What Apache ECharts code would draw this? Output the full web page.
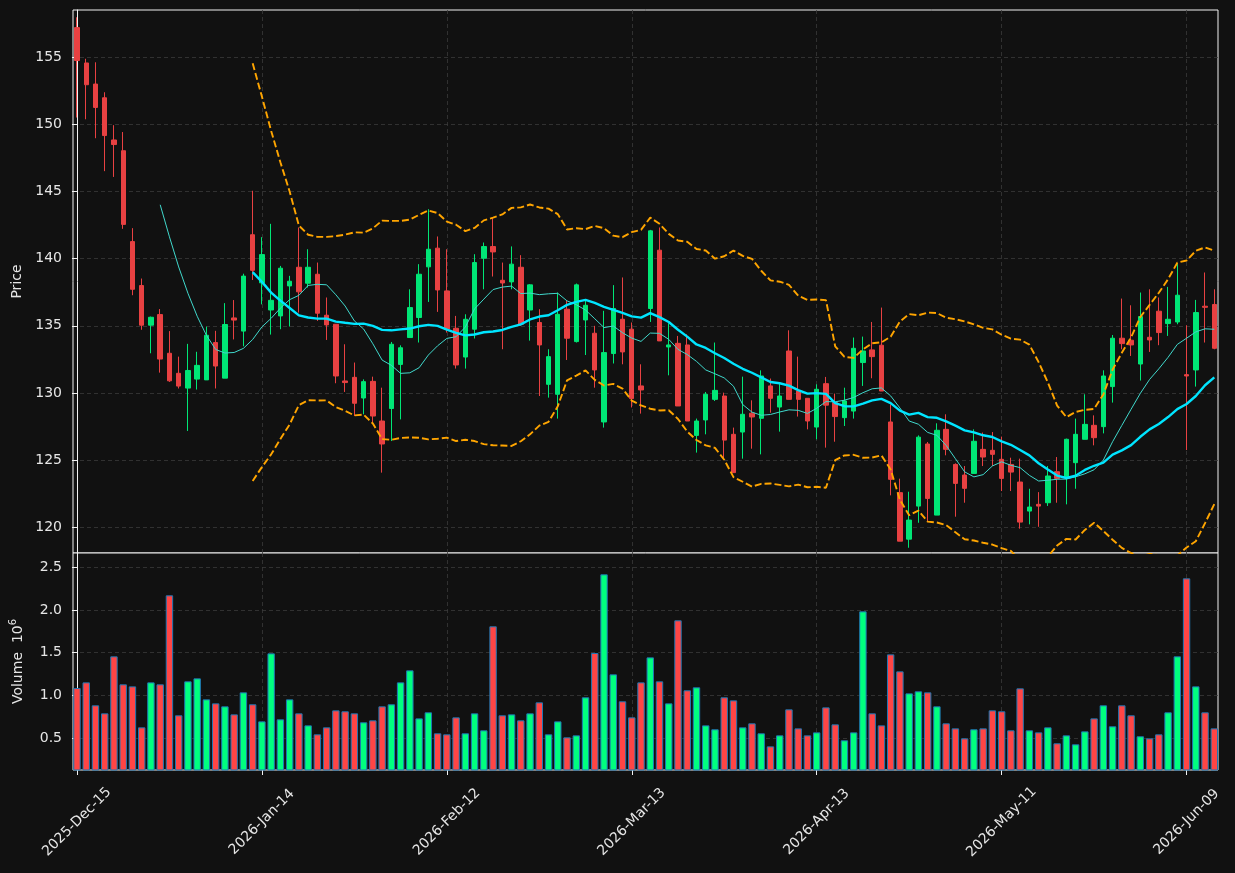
<!DOCTYPE html>
<html>
<head>
<meta charset="utf-8">
<title>Price / Volume</title>
<script src="https://cdn.jsdelivr.net/npm/echarts@6/dist/echarts.min.js"></script>
<style>
    html, body { margin: 0; padding: 0; background: #111111; }
    #chart { width: 1235px; height: 873px; }
</style>
</head>
<body>
<div id="chart"></div>
<script>
// x positions are trading-day indexes, labelled every 20 sessions
var tickPos = [0, 20, 40, 60, 80, 100, 120];
var tickLabels = ['2025-Dec-15', '2026-Jan-14', '2026-Feb-12', '2026-Mar-13',
                  '2026-Apr-13', '2026-May-11', '2026-Jun-09'];
var priceTicks = [120, 125, 130, 135, 140, 145, 150, 155];
var volumeTicks = [0.5, 1.0, 1.5, 2.0, 2.5];

var opens = [157.19, 154.56, 152.99, 151.97, 148.83, 148.03, 141.27, 138.0, 135.05, 135.84,
             132.96, 131.47, 130.37, 131.04, 130.98, 133.76, 131.11, 135.59, 134.61, 141.78,
             138.2, 136.18, 135.74, 137.97, 139.36, 138.17, 138.84, 135.79, 135.12, 130.9,
             131.17, 129.63, 130.87, 127.92, 128.85, 132.13, 134.13, 135.62, 139.39, 140.78,
             137.6, 134.82, 132.68, 134.75, 140.03, 140.9, 138.39, 138.27, 139.36, 136.18,
             135.25, 130.65, 129.91, 136.24, 133.83, 135.44, 134.45, 127.85, 132.94, 135.49,
             134.75, 130.53, 136.29, 140.63, 133.43, 133.7, 133.58, 126.85, 128.0, 129.53,
             129.78, 126.93, 127.1, 128.5, 128.12, 130.53, 128.96, 133.13, 130.15, 129.61,
             127.47, 130.7, 129.29, 128.17, 128.66, 132.27, 133.21, 133.56, 127.85, 122.59,
             119.13, 121.59, 126.21, 120.92, 127.3, 124.69, 123.9, 124.02, 125.81, 125.74,
             125.07, 124.69, 123.38, 121.22, 121.72, 121.84, 124.15, 123.78, 124.82, 126.56,
             127.6, 127.5, 130.48, 134.08, 133.93, 132.16, 134.15, 136.09, 135.17, 135.29,
             131.37, 131.72, 136.46, 136.59];
var closes = [154.74, 152.94, 151.25, 149.16, 148.49, 142.55, 137.72, 135.05, 135.64, 132.53,
              130.91, 130.52, 131.68, 132.06, 134.3, 132.01, 135.1, 135.43, 138.7, 139.13,
              140.3, 136.9, 139.29, 138.32, 137.53, 139.36, 135.94, 135.07, 131.27, 130.78,
              129.24, 130.85, 128.29, 126.21, 133.63, 133.37, 136.36, 138.84, 140.7, 137.67,
              134.75, 132.09, 135.49, 139.71, 140.9, 140.5, 138.19, 139.59, 135.12, 138.05,
              133.58, 132.71, 135.86, 134.08, 138.05, 136.53, 131.72, 133.01, 136.29, 133.06,
              129.59, 130.23, 142.07, 133.88, 133.58, 129.04, 127.92, 127.92, 129.91, 130.2,
              126.5, 124.08, 128.42, 128.22, 131.27, 129.61, 129.78, 129.53, 129.53, 127.92,
              130.28, 129.1, 128.25, 129.41, 133.33, 133.13, 132.71, 130.15, 123.58, 118.98,
              120.55, 126.72, 122.16, 127.23, 125.81, 123.28, 122.91, 126.41, 125.24, 125.44,
              123.65, 124.12, 120.4, 121.52, 121.59, 123.83, 123.65, 126.56, 126.93, 127.67,
              126.68, 131.27, 134.08, 133.68, 133.58, 135.69, 133.95, 134.5, 135.49, 137.28,
              131.27, 135.99, 136.38, 133.33];
var lows = [150.5, 150.37, 148.96, 146.51, 146.08, 142.22, 137.28, 134.71, 132.96, 131.52,
            130.83, 130.34, 127.18, 130.26, 130.98, 130.34, 131.11, 133.99, 133.48, 138.41,
            136.6, 134.35, 134.75, 134.95, 135.99, 137.85, 135.37, 133.95, 130.73, 130.08,
            128.29, 128.42, 127.8, 124.08, 126.43, 128.04, 134.1, 133.76, 136.78, 136.04,
            134.5, 131.82, 131.82, 134.06, 137.72, 138.67, 133.26, 137.72, 135.0, 133.9,
            129.78, 129.66, 128.1, 132.46, 133.76, 132.83, 130.4, 127.43, 132.2, 132.14,
            128.93, 128.47, 135.29, 133.88, 131.32, 129.04, 127.92, 125.57, 126.93, 129.41,
            125.07, 124.08, 125.12, 125.86, 125.44, 128.54, 127.13, 129.53, 128.25, 127.3,
            126.56, 125.94, 126.38, 127.55, 128.1, 130.53, 131.1, 130.15, 122.39, 118.98,
            118.49, 120.35, 120.4, 120.92, 125.37, 120.8, 121.84, 124.02, 124.57, 124.57,
            122.71, 122.71, 119.91, 120.23, 120.05, 121.6, 121.84, 121.72, 122.88, 126.56,
            126.11, 127.0, 129.29, 133.26, 132.76, 130.93, 133.06, 133.56, 134.25, 135.12,
            125.76, 130.48, 133.76, 133.26];
var highs = [157.96, 154.87, 154.61, 152.38, 149.93, 149.42, 142.27, 138.52, 135.69, 136.25,
             134.61, 132.71, 133.66, 133.07, 134.94, 134.63, 136.69, 136.92, 138.88, 145.05,
             141.6, 142.59, 139.46, 138.72, 142.32, 140.7, 139.71, 137.11, 135.12, 133.63,
             132.27, 131.02, 131.22, 130.4, 133.8, 133.55, 137.72, 139.59, 143.68, 141.65,
             140.7, 135.74, 135.86, 140.33, 141.2, 143.06, 139.71, 140.91, 140.26, 138.1,
             136.24, 133.26, 137.48, 136.86, 138.15, 136.86, 135.0, 136.12, 138.03, 138.6,
             135.25, 132.14, 142.14, 142.32, 135.19, 134.25, 134.37, 128.1, 130.08, 133.76,
             130.03, 127.43, 131.22, 129.46, 131.69, 131.08, 130.78, 134.67, 132.71, 129.61,
             130.65, 131.2, 129.96, 130.4, 134.13, 134.2, 135.29, 136.36, 129.16, 123.63,
             122.66, 126.85, 126.36, 127.75, 128.42, 124.77, 124.57, 127.3, 127.06, 127.1,
             126.76, 125.19, 125.12, 122.88, 122.63, 124.57, 125.24, 126.61, 128.1, 129.91,
             128.34, 131.69, 134.32, 137.03, 136.53, 137.48, 137.72, 137.11, 137.9, 139.59,
             135.04, 136.93, 138.97, 137.72];
// volume in millions of shares
var volumes = [1.086, 1.152, 0.883, 0.789, 1.457, 1.129, 1.105, 0.625, 1.152, 1.129,
               2.172, 0.766, 1.164, 1.199, 0.953, 0.906, 0.871, 0.777, 1.035, 0.895,
               0.695, 1.492, 0.719, 0.953, 0.789, 0.648, 0.543, 0.625, 0.824, 0.813,
               0.789, 0.684, 0.707, 0.871, 0.895, 1.152, 1.293, 0.730, 0.801, 0.555,
               0.543, 0.742, 0.555, 0.789, 0.590, 1.809, 0.766, 0.777, 0.707, 0.789,
               0.918, 0.543, 0.695, 0.508, 0.531, 0.977, 1.496, 2.418, 1.246, 0.930,
               0.742, 1.152, 1.445, 1.164, 0.906, 1.879, 1.059, 1.094, 0.648, 0.602,
               0.977, 0.941, 0.625, 0.672, 0.555, 0.402, 0.531, 0.836, 0.613, 0.531,
               0.566, 0.859, 0.660, 0.473, 0.566, 1.984, 0.789, 0.648, 1.480, 1.281,
               1.023, 1.047, 1.035, 0.871, 0.672, 0.613, 0.496, 0.602, 0.613, 0.824,
               0.813, 0.590, 1.082, 0.590, 0.566, 0.625, 0.438, 0.531, 0.426, 0.578,
               0.730, 0.883, 0.637, 0.883, 0.766, 0.520, 0.496, 0.543, 0.801, 1.457,
               2.371, 1.105, 0.801, 0.613];

var UP = '#00e676', DOWN = '#e84142';
var VOL_UP = '#00ff7f', VOL_DOWN = '#ff4545';
var TEXT = '#e6e6e6';
var FRAME = '#f2f2f2';

// rolling mean / population std over the closes, same as the original indicator lines
function rolling(arr, n, fn) {
    var out = [];
    for (var i = n - 1; i < arr.length; i++) {
        out.push([i, fn(arr.slice(i - n + 1, i + 1))]);
    }
    return out;
}
function mean(w) {
    var s = 0;
    for (var k = 0; k < w.length; k++) s += w[k];
    return s / w.length;
}
function band(mult) {
    return function (w) {
        var m = mean(w), v = 0;
        for (var k = 0; k < w.length; k++) v += (w[k] - m) * (w[k] - m);
        return m + mult * Math.sqrt(v / w.length);
    };
}

var candleData = [], volData = [];
for (var i = 0; i < opens.length; i++) {
    var up = closes[i] >= opens[i];
    candleData.push([i, opens[i], closes[i], lows[i], highs[i]]);
    volData.push({value: [i, volumes[i]], itemStyle: {color: up ? VOL_UP : VOL_DOWN}});
}
var ma10 = rolling(closes, 10, mean);
var ma20 = rolling(closes, 20, mean);
var bbUpper = rolling(closes, 20, band(2));
var bbLower = rolling(closes, 20, band(-2));

var gridLine = {show: true, lineStyle: {color: '#3a3a3a', type: [4, 3], width: 0.8}};
var tickStyle = {show: true, length: 5, lineStyle: {color: FRAME, width: 1}};

var xBase = {
    type: 'value', min: -0.43, max: 123.4,
    axisLine: {show: false},
    splitLine: gridLine
};

var chart = echarts.init(document.getElementById('chart'));
chart.setOption({
    backgroundColor: '#111111',
    animation: false,
    grid: [
        {left: 73, right: 17, top: 10, height: 543, show: true, borderColor: FRAME, borderWidth: 1, backgroundColor: '#111111'},
        {left: 73, right: 17, top: 553, height: 217, show: true, borderColor: FRAME, borderWidth: 1, backgroundColor: '#111111'}
    ],
    xAxis: [
        echarts.util.merge({
            gridIndex: 0,
            axisTick: {show: false, customValues: tickPos},
            axisLabel: {show: false, customValues: tickPos}
        }, xBase),
        echarts.util.merge({
            gridIndex: 1,
            axisTick: echarts.util.merge({customValues: tickPos}, tickStyle),
            axisLabel: {
                customValues: tickPos, color: TEXT, fontSize: 14, fontFamily: 'DejaVu Sans',
                rotate: 45, align: 'center', verticalAlign: 'middle', margin: 52,
                formatter: function (v) { return tickLabels[tickPos.indexOf(Math.round(v))]; }
            }
        }, xBase)
    ],
    yAxis: [
        {
            gridIndex: 0, type: 'value', min: 118.1, max: 158.5,
            name: 'Price', nameLocation: 'middle', nameGap: 45,
            nameTextStyle: {color: TEXT, fontSize: 14, fontFamily: 'DejaVu Sans'},
            axisLine: {show: true, lineStyle: {color: FRAME}},
            axisTick: echarts.util.merge({customValues: priceTicks}, tickStyle),
            axisLabel: {customValues: priceTicks, color: TEXT, fontSize: 14, fontFamily: 'DejaVu Sans', margin: 11},
            splitLine: gridLine
        },
        {
            gridIndex: 1, type: 'value', min: 0.125, max: 2.668,
            name: 'Volume  10{sup|6}', nameLocation: 'middle', nameGap: 42,
            nameTextStyle: {
                color: TEXT, fontSize: 14, fontFamily: 'DejaVu Sans', lineHeight: 20,
                rich: {sup: {color: TEXT, fontSize: 10, fontFamily: 'DejaVu Sans', verticalAlign: 'top', lineHeight: 10}}
            },
            axisLine: {show: true, lineStyle: {color: FRAME}},
            axisTick: echarts.util.merge({customValues: volumeTicks}, tickStyle),
            axisLabel: {
                customValues: volumeTicks, color: TEXT, fontSize: 14, fontFamily: 'DejaVu Sans', margin: 11,
                formatter: function (v) { return v.toFixed(1); }
            },
            splitLine: gridLine
        }
    ],
    series: [
        {
            type: 'candlestick', xAxisIndex: 0, yAxisIndex: 0,
            data: candleData, barWidth: 4.9,
            encode: {x: 0, y: [1, 2, 3, 4]},
            itemStyle: {color: UP, color0: DOWN, borderColor: UP, borderColor0: DOWN, borderWidth: 1}
        },
        {
            type: 'line', xAxisIndex: 0, yAxisIndex: 0, data: ma10,
            showSymbol: false, lineStyle: {color: '#40d8cc', width: 1}
        },
        {
            type: 'line', xAxisIndex: 0, yAxisIndex: 0, data: ma20,
            showSymbol: false, lineStyle: {color: '#00e5ff', width: 2.4}
        },
        {
            type: 'line', xAxisIndex: 0, yAxisIndex: 0, data: bbUpper,
            showSymbol: false, lineStyle: {color: '#ffa500', width: 1.9, type: [7, 3]}
        },
        {
            type: 'line', xAxisIndex: 0, yAxisIndex: 0, data: bbLower,
            showSymbol: false, lineStyle: {color: '#ffa500', width: 1.9, type: [7, 3]}
        },
        {
            type: 'bar', xAxisIndex: 1, yAxisIndex: 1, data: volData,
            barWidth: 7.4,
            itemStyle: {borderColor: '#1f77b4', borderWidth: 1}
        }
    ]
});
</script>
</body>
</html>
